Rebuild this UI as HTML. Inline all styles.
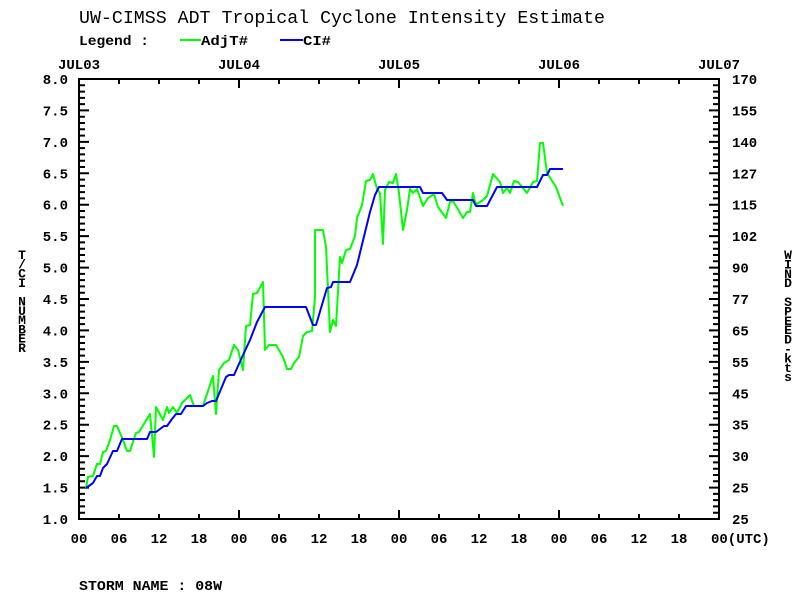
<!DOCTYPE html>
<html><head><meta charset="utf-8"><style>
html,body{margin:0;padding:0;background:#fff;}
svg{display:block;}
text{font-family:"Liberation Mono","DejaVu Sans Mono",monospace;fill:#000;}
</style></head><body>
<svg id="s" width="800" height="600" xmlns="http://www.w3.org/2000/svg">
<rect width="800" height="600" fill="#fff"/>
<text x="79" y="23" font-size="18" textLength="526" lengthAdjust="spacingAndGlyphs">UW-CIMSS ADT Tropical Cyclone Intensity Estimate</text>
<text x="79" y="45" font-size="14" font-weight="bold" textLength="70" lengthAdjust="spacingAndGlyphs">Legend :</text>
<line x1="180" y1="40" x2="201" y2="40" stroke="#00ff00" stroke-width="2"/>
<text x="201" y="45" font-size="14" font-weight="bold" textLength="47" lengthAdjust="spacingAndGlyphs">AdjT#</text>
<line x1="280" y1="40" x2="303" y2="40" stroke="#0000ff" stroke-width="2"/>
<text x="303" y="45" font-size="14" font-weight="bold" textLength="28" lengthAdjust="spacingAndGlyphs">CI#</text>
<g font-size="14" font-weight="bold" text-anchor="middle">
<text x="79" y="69">JUL03</text><text x="239" y="69">JUL04</text><text x="399" y="69">JUL05</text><text x="559" y="69">JUL06</text><text x="719" y="69">JUL07</text>
</g>
<g id="ax" stroke="#000" stroke-width="2" fill="none"></g>
<g id="lab" font-size="14" font-weight="bold"></g>
<text x="79" y="590" font-size="14" font-weight="bold" textLength="143" lengthAdjust="spacingAndGlyphs">STORM NAME : 08W</text>
<g id="yt" font-size="13" font-weight="bold" text-anchor="middle"></g>
<polyline id="g" fill="none" stroke="#00ff00" stroke-width="2" stroke-linejoin="round"/>
<polyline id="b" fill="none" stroke="#0000ff" stroke-width="2" stroke-linejoin="round"/>
</svg>
<script>
var NS="http://www.w3.org/2000/svg";
function el(p,n,a,t){var e=document.createElementNS(NS,n);for(var k in a)e.setAttribute(k,a[k]);if(t!=null)e.textContent=t;p.appendChild(e);return e;}
var ax=document.getElementById('ax'),lab=document.getElementById('lab'),yt=document.getElementById('yt');
var d="M79 79 H719 V519 H79 Z";
for(var i=1;i<70;i++){var y=519-i*440/70;var L=(i%5==0)?10:6;d+=" M79 "+y.toFixed(2)+" h"+L+" M719 "+y.toFixed(2)+" h-"+L;}
for(var j=1;j<16;j++){var x=79+j*40;var L=(j%4==0)?9:5;d+=" M"+x+" 519 v-"+L+" M"+x+" 79 v"+L;}
el(ax,'path',{d:d});
var R=["25","25","30","35","45","55","65","77","90","102","115","127","140","155","170"];
for(var i=0;i<=14;i++){var v=1+i*0.5;var y=519-i*0.5*440/7;
el(lab,'text',{x:68,y:y+5,'text-anchor':'end'},v.toFixed(1));
el(lab,'text',{x:732,y:y+5},R[i]);}
var H=["00","06","12","18"];
for(var j=0;j<16;j++){el(lab,'text',{x:79+j*40,y:543,'text-anchor':'middle'},H[j%4]);}
el(lab,'text',{x:711,y:543},"00(UTC)");
var a="T/CI NUMBER";for(var i=0;i<a.length;i++)el(yt,'text',{x:22,y:259+i*9.3},a[i]);
var b="WIND SPEED-kts";for(var i=0;i<b.length;i++)el(yt,'text',{x:788,y:259+i*9.4},b[i]);
var G=[[86,488],[88,477],[93,476],[97,464],[100,464],[103,452],[106,451],[110,440],[114,426],[117,426],[123,440],[127,451],[130,451],[136,433],[139,432],[150,414],[154,457],[156,407],[163,420],[167,407],[169,413],[173,407],[177,413],[182,403],[186,399],[190,395],[194,406],[203,406],[213,376],[216,414],[219,370],[224,363],[229,360],[234,345],[238,350],[243,370],[246,326],[250,325],[253,294],[257,293],[263,282],[265,350],[269,345],[276,345],[283,357],[287,369],[291,369],[294,363],[299,357],[303,336],[307,332],[312,331],[315,297],[315,230],[323,230],[326,247],[330,332],[333,320],[336,326],[340,257],[342,263],[346,250],[350,249],[355,236],[357,218],[362,205],[366,181],[370,180],[373,174],[377,189],[380,193],[383,244],[385,190],[389,182],[393,183],[396,174],[399,193],[403,230],[407,210],[410,189],[413,193],[417,189],[423,206],[428,198],[434,194],[438,207],[446,218],[450,202],[453,201],[463,218],[467,212],[470,212],[473,193],[475,202],[477,204],[483,200],[487,196],[493,174],[500,182],[503,193],[507,188],[510,193],[514,181],[518,182],[527,193],[533,182],[537,181],[540,143],[543,143],[547,173],[556,187],[563,206]];
var B=[[86,488],[93,483],[97,476],[100,476],[103,468],[107,464],[113,451],[117,451],[122,439],[147,439],[150,432],[156,432],[164,426],[167,426],[172,419],[176,414],[181,414],[186,406],[203,406],[207,403],[212,401],[216,401],[226,377],[229,375],[234,375],[243,355],[250,340],[257,322],[265,307],[306,307],[313,325],[316,325],[327,288],[331,287],[333,282],[350,282],[357,265],[370,212],[375,195],[379,187],[420,187],[423,193],[442,193],[447,200],[473,200],[476,206],[487,206],[497,187],[537,187],[543,175],[547,175],[550,169],[563,169]];
document.getElementById('g').setAttribute('points',G.join(' '));
document.getElementById('b').setAttribute('points',B.join(' '));
</script>
</body></html>
